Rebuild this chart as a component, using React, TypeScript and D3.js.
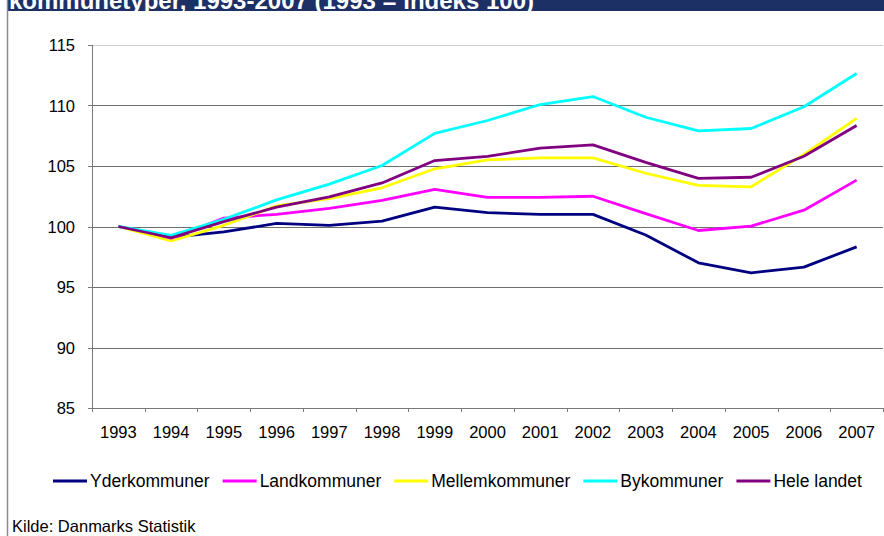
import React, { useEffect, useRef } from "react";
import * as d3 from "d3";

const years = ["1993","1994","1995","1996","1997","1998","1999","2000","2001","2002","2003","2004","2005","2006","2007"];
const yderkommuner = [100, 99.1, 99.56, 100.25, 100.1, 100.45, 101.6, 101.15, 101.0, 101.0, 99.3, 97.0, 96.17, 96.64, 98.32];
const landkommuner = [100, 99.0, 100.7, 101.0, 101.5, 102.15, 103.06, 102.4, 102.4, 102.5, 101.07, 99.67, 100.03, 101.35, 103.83];
const mellemkommuner = [100, 98.8, 100.1, 101.7, 102.3, 103.2, 104.77, 105.5, 105.67, 105.67, 104.4, 103.4, 103.28, 105.95, 108.93];
const bykommuner = [100, 99.26, 100.6, 102.2, 103.5, 105.04, 107.7, 108.76, 110.08, 110.74, 109.03, 107.9, 108.1, 109.9, 112.64];
const heleLandet = [100, 99.07, 100.4, 101.6, 102.45, 103.6, 105.45, 105.8, 106.47, 106.75, 105.3, 103.97, 104.07, 105.8, 108.35];
const yTicks = [85, 90, 95, 100, 105, 110, 115];
const seriesNames = ["Yderkommuner", "Landkommuner", "Mellemkommuner", "Bykommuner", "Hele landet"];
const seriesColors = ["#000080", "#FF00FF", "#FFFF00", "#00FFFF", "#800080"];
const seriesValues = [yderkommuner, landkommuner, mellemkommuner, bykommuner, heleLandet];
const title = "kommunetyper, 1993-2007 (1993 = indeks 100)";
const source = "Kilde: Danmarks Statistik";

const W = 884, H = 536;
const FONT = "Arial, 'Liberation Sans', sans-serif";

export default function App() {
  const ref = useRef<SVGSVGElement>(null);
  useEffect(() => {
    document.body.style.margin = "0";
    const svg = d3.select(ref.current);
    svg.selectAll("*").remove();

    const left = 92, right = 883, top = 45, bottom = 408;
    const x = d3.scaleBand().domain(years).range([left, right]).padding(0);
    const y = d3.scaleLinear().domain([85, 115]).range([bottom, top]);
    const cx = (yr: string) => (x(yr) as number) + x.bandwidth() / 2;

    svg.append("rect").attr("x", 0).attr("y", 0).attr("width", W).attr("height", H).attr("fill", "#fff");

    // title bar
    svg.append("rect").attr("x", 8).attr("y", 0).attr("width", W - 8).attr("height", 11).attr("fill", "#1d3066");
    svg.append("text").attr("x", 9).attr("y", 8.5).attr("fill", "#fff")
      .attr("font-family", FONT).attr("font-weight", "bold").attr("font-size", 24).text(title);
    // frame line
    svg.append("line").attr("x1", 7.5).attr("x2", 7.5).attr("y1", 0).attr("y2", H)
      .attr("stroke", "#8a8a8a").attr("stroke-width", 1.5);

    // gridlines
    svg.append("g").selectAll("line").data(yTicks.filter(t => t > 85)).join("line")
      .attr("x1", left).attr("x2", right)
      .attr("y1", d => Math.round(y(d)) + 0.5).attr("y2", d => Math.round(y(d)) + 0.5)
      .attr("stroke", d => d === 115 ? "#d0d0d0" : "#6e6e6e").attr("stroke-width", 1);

    // y axis
    const axisColor = "#7a7a7a";
    svg.append("line").attr("x1", left + 0.5).attr("x2", left + 0.5).attr("y1", top).attr("y2", bottom + 4)
      .attr("stroke", axisColor);
    svg.append("g").selectAll("line").data(yTicks).join("line")
      .attr("x1", left - 4).attr("x2", left)
      .attr("y1", d => Math.round(y(d)) + 0.5).attr("y2", d => Math.round(y(d)) + 0.5)
      .attr("stroke", axisColor);
    svg.append("g").selectAll("text").data(yTicks).join("text")
      .attr("x", 75).attr("y", d => y(d) + 6).attr("text-anchor", "end")
      .attr("font-family", FONT).attr("font-size", 16.5).attr("fill", "#000").text(d => d);

    // x axis
    svg.append("line").attr("x1", left).attr("x2", right).attr("y1", bottom + 0.5).attr("y2", bottom + 0.5)
      .attr("stroke", axisColor);
    const bounds = years.map(yr => x(yr) as number).concat([right]);
    svg.append("g").selectAll("line").data(bounds).join("line")
      .attr("x1", d => Math.round(d) + 0.5).attr("x2", d => Math.round(d) + 0.5)
      .attr("y1", bottom).attr("y2", bottom + 4).attr("stroke", axisColor);
    svg.append("g").selectAll("text").data(years).join("text")
      .attr("x", d => cx(d)).attr("y", 438).attr("text-anchor", "middle")
      .attr("font-family", FONT).attr("font-size", 16.5).attr("fill", "#000").text(d => d);

    // lines
    const line = d3.line<number>().x((_, i) => cx(years[i])).y(d => y(d));
    seriesValues.forEach((vals, i) => {
      svg.append("path").datum(vals).attr("d", line).attr("fill", "none")
        .attr("stroke", seriesColors[i]).attr("stroke-width", 2.8).attr("stroke-linejoin", "round");
    });

    // legend
    const lg = svg.append("g");
    let lx = 53;
    const ly = 481;
    seriesNames.forEach((name, i) => {
      lg.append("line").attr("x1", lx).attr("x2", lx + 34).attr("y1", ly).attr("y2", ly)
        .attr("stroke", seriesColors[i]).attr("stroke-width", 2.8);
      const t = lg.append("text").attr("x", lx + 37).attr("y", ly + 6)
        .attr("font-family", FONT).attr("font-size", 17.5).attr("fill", "#000").text(name);
      const w = (t.node() as SVGTextElement).getComputedTextLength();
      lx = lx + 37 + w + 13;
    });

    svg.append("text").attr("x", 12).attr("y", 532).attr("font-family", FONT).attr("font-size", 16.5)
      .attr("fill", "#000").text(source);
  }, []);
  return <svg ref={ref} width={W} height={H} style={{ display: "block" }} />;
}
